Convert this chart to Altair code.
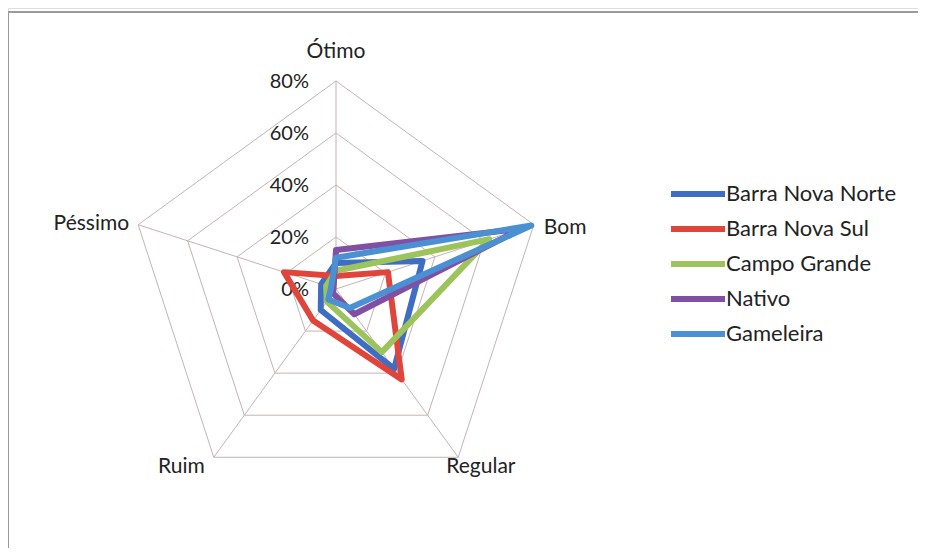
import math
import altair as alt
import pandas as pd

# ---------------- data ----------------
categorias = ["Ótimo", "Bom", "Regular", "Ruim", "Péssimo"]
series = ["Barra Nova Norte", "Barra Nova Sul", "Campo Grande", "Nativo", "Gameleira"]
barra_nova_norte = [10, 35, 38, 10, 6]
barra_nova_sul = [5, 21, 43, 15, 21]
campo_grande = [7, 62, 30, 6, 4]
nativo = [15, 75, 12, 2, 1]
gameleira = [12, 79, 9, 5, 2]
niveis = [0, 20, 40, 60, 80]
rotulos = ["0%", "20%", "40%", "60%", "80%"]
cores = ["#3F6DC3", "#E0453B", "#9DC45C", "#8050A3", "#4A90D3"]

valores = [barra_nova_norte, barra_nova_sul, campo_grande, nativo, gameleira]

# ---------------- layout ----------------
W, H = 910, 540
CX, CY, K = 328, 281, 2.6
XMIN, XMAX = -CX / K, (W - CX) / K
YMIN, YMAX = -(H - CY) / K, CY / K
FONT = "Lato"
GRID = "#c4b3b3"

xs = alt.Scale(domain=[XMIN, XMAX], nice=False, zero=False)
ys = alt.Scale(domain=[YMIN, YMAX], nice=False, zero=False)

ANG = "datum.idx * 2 * PI / 5"


def polar(ch, rfield):
    return ch.transform_calculate(
        x=f"datum.{rfield} * sin({ANG})", y=f"datum.{rfield} * cos({ANG})"
    )


# series table (closed polygons)
rows = []
for s, vals in zip(series, valores):
    for i in range(6):
        rows.append({"serie": s, "idx": i % 5, "ordem": i, "valor": vals[i % 5]})
df = pd.DataFrame(rows)

# grid table
grid_rows = []
for lv in niveis:
    for i in range(6):
        grid_rows.append({"nivel": lv, "idx": i % 5, "ordem": i})
gdf = pd.DataFrame(grid_rows)

spk = pd.DataFrame({"idx": list(range(5)), "r": [max(niveis)] * 5, "cat": categorias})
tick = pd.DataFrame({"nivel": niveis, "rot": rotulos, "idx": [0] * 5})

base_x = alt.X("x:Q", scale=xs, axis=None)
base_y = alt.Y("y:Q", scale=ys, axis=None)

grid = polar(alt.Chart(gdf), "nivel").mark_line(
    color=GRID, strokeWidth=1
).encode(x=base_x, y=base_y, detail="nivel:N", order="ordem:Q")

spokes = alt.Chart(spk).transform_calculate(
    x0="0", y0="0",
    x1=f"datum.r * sin({ANG})", y1=f"datum.r * cos({ANG})",
).mark_rule(color=GRID, strokeWidth=1).encode(
    x=alt.X("x0:Q", scale=xs, axis=None),
    y=alt.Y("y0:Q", scale=ys, axis=None),
    x2="x1:Q", y2="y1:Q",
)

ticks = polar(alt.Chart(tick), "nivel").mark_text(
    align="right", baseline="middle", dx=-27, dy=1, font=FONT, fontSize=20, color="#222"
).encode(x=base_x, y=base_y, text="rot:N")

label_cfg = {
    "Ótimo": dict(align="center", dx=0, dy=-29),
    "Bom": dict(align="left", dx=10, dy=3),
    "Regular": dict(align="left", dx=-12, dy=10),
    "Ruim": dict(align="right", dx=-9, dy=10),
    "Péssimo": dict(align="right", dx=-9, dy=-1),
}
cat_layers = []
for c in categorias:
    cfg = label_cfg[c]
    cat_layers.append(
        polar(alt.Chart(spk).transform_filter(alt.datum.cat == c), "r").mark_text(
            baseline="middle", font=FONT, fontSize=21, color="#222", **cfg
        ).encode(x=base_x, y=base_y, text="cat:N")
    )

color = alt.Color(
    "serie:N",
    scale=alt.Scale(domain=series, range=cores),
    legend=alt.Legend(
        title=None,
        orient="none",
        legendX=678,
        legendY=174,
        symbolType="M-3,0H3",
        symbolSize=324,
        symbolStrokeWidth=6,
        labelOffset=16,
        rowPadding=11,
        labelFont=FONT,
        labelFontSize=22,
        labelColor="#222",
        labelLimit=400,
    ),
)

line_layers = []
for s in series:
    line_layers.append(
        polar(alt.Chart(df).transform_filter(alt.datum.serie == s), "valor").mark_line(
            strokeWidth=6, strokeJoin="round", strokeCap="round"
        ).encode(x=base_x, y=base_y, color=color, order="ordem:Q")
    )

frame_top = alt.Chart(spk).mark_rule(color="#9a9a9a", strokeWidth=1.5).encode(
    x=alt.value(0), x2=alt.value(W), y=alt.value(4)
)
frame_left = alt.Chart(spk).mark_rule(color="#9a9a9a", strokeWidth=1.5).encode(
    x=alt.value(0), y=alt.value(4), y2=alt.value(H)
)

chart = alt.layer(
    frame_top, frame_left, grid, spokes, ticks, *cat_layers, *line_layers
).properties(
    width=W, height=H, autosize=alt.AutoSizeParams(type="none"), padding=0
).configure_view(stroke=None).configure(background="white")

chart.save("out.html", embed_options={"renderer": "svg", "actions": False})
